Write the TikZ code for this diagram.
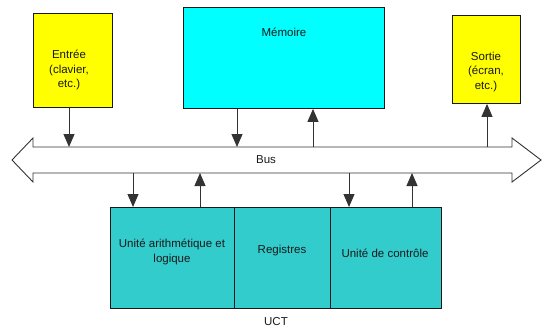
\documentclass[tikz,border=0pt]{standalone}
\usepackage{fontspec}
\setmainfont{Liberation Sans}
\usetikzlibrary{arrows.meta}
\definecolor{yel}{HTML}{FFFF00}
\definecolor{cya}{HTML}{00FFFF}
\definecolor{tea}{HTML}{33CCCC}
\definecolor{linec}{HTML}{333333}
\begin{document}
\begin{tikzpicture}[x=1pt,y=-1pt,
  box/.style={draw=black!90,line width=0.9pt,inner sep=0pt,anchor=north west},
  lbl/.style={align=center,font=\fontsize{11.5}{14.5}\selectfont,text=black!90},
  arr/.style={draw=linec,line width=1pt,-{Triangle[width=11pt,length=13pt]}}]
\useasboundingbox (0,0) rectangle (543,329);
% top boxes
\node[box,fill=yel,minimum width=79pt,minimum height=94pt] (in) at (33,13) {};
\node[lbl] (intxt) at (69,70) {Entrée\\(clavier,\\etc.)};
\node[box,fill=cya,minimum width=201pt,minimum height=101pt] (mem) at (183,7) {};
\node[lbl] (memtxt) at (284,32) {Mémoire};
\node[box,fill=yel,minimum width=68pt,minimum height=88pt] (out) at (452,15) {};
\node[lbl] (outtxt) at (486,72) {Sortie\\(écran,\\etc.)};
% bus
\draw[draw=linec,line width=0.9pt,fill=white] (12,160) -- (33,138) -- (33,147) -- (512,147) -- (512,138) -- (541,160) -- (512,182) -- (512,173) -- (33,173) -- (33,182) -- cycle;
\node[lbl] (bus) at (266,160) {Bus};
\coordinate (t1) at (69,147);
\coordinate (t2) at (237,147);
\coordinate (t3) at (313,147);
\coordinate (t4) at (487,147);
\coordinate (u1) at (133,173);
\coordinate (u2) at (200,173);
\coordinate (u3) at (349,173);
\coordinate (u4) at (412,173);
% UCT
\node[box,fill=tea,minimum width=124pt,minimum height=101pt] (ual) at (110,207) {};
\node[box,fill=tea,minimum width=96pt,minimum height=101pt] (reg) at (234,207) {};
\node[box,fill=tea,minimum width=111pt,minimum height=101pt] (uc) at (330,207) {};
\node[lbl] (ualtxt) at (172,252) {Unité arithmétique et\\logique};
\node[lbl] (regtxt) at (282,251) {Registres};
\node[lbl] (uctxt) at (385,253) {Unité de contrôle};
\node[lbl] (uct) at (276,322) {UCT};
% connectors
\draw[arr] (t1 |- in.south) -- (t1);
\draw[arr] (t2 |- mem.south) -- (t2);
\draw[arr] (t3) -- (t3 |- mem.south);
\draw[arr] (t4) -- (t4 |- out.south);
\draw[arr] (u1) -- (u1 |- ual.north);
\draw[arr] (u2 |- ual.north) -- (u2);
\draw[arr] (u3) -- (u3 |- uc.north);
\draw[arr] (u4 |- uc.north) -- (u4);
\end{tikzpicture}
\end{document}
